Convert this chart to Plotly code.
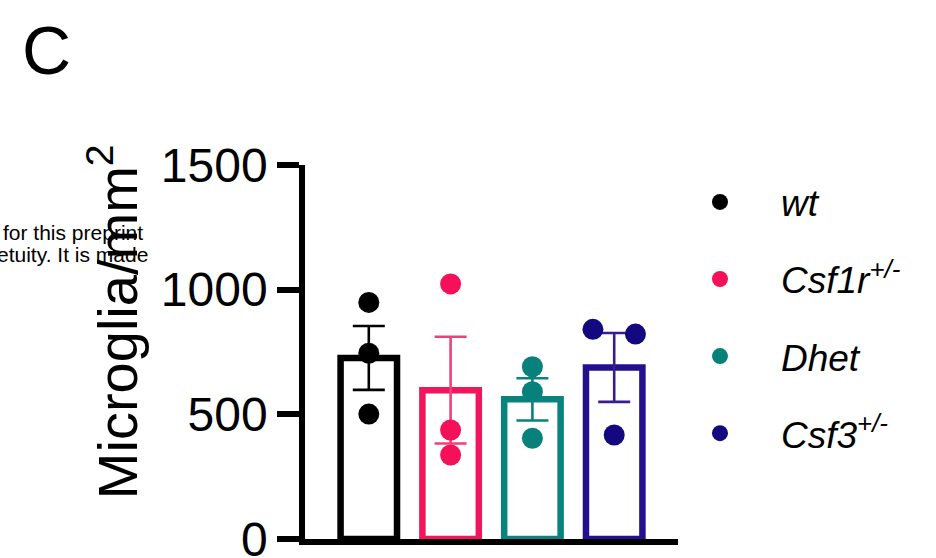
import plotly.graph_objects as go

groups = ["wt", "Csf1r", "Dhet", "Csf3"]
legend_labels = ["<i>wt</i>", "<i>Csf1r<sup>+/-</sup></i>", "<i>Dhet</i>", "<i>Csf3<sup>+/-</sup></i>"]
bar_means = [726, 597, 560, 688]
bar_sem = [128, 214, 85, 138]
points = [[949, 745, 501], [1023, 437, 337], [691, 591, 404], [841, 822, 417]]
jitter = [[0, 0, 0], [0, 0, 0], [0, 0, 0], [-0.26, 0.26, 0]]
bar_colors = ["#000000", "#F2145C", "#0A827E", "#24108C"]
err_colors = ["#000000", "#F0407A", "#0A827E", "#3A1C8E"]
dot_colors = ["#000000", "#F5115A", "#08807C", "#13087F"]
y_ticks = [0, 500, 1000, 1500]

fig = go.Figure()
for i, g in enumerate(groups):
    fig.add_trace(go.Bar(
        x=[i], y=[bar_means[i]], width=0.69,
        marker=dict(color="white", line=dict(color=bar_colors[i], width=6.5)),
        error_y=dict(type="data", array=[bar_sem[i]], color=err_colors[i], thickness=2.6, width=16),
        showlegend=False, hoverinfo="skip",
    ))
for i, g in enumerate(groups):
    fig.add_trace(go.Scatter(
        x=[i + j for j in jitter[i]], y=points[i], mode="markers",
        marker=dict(color=dot_colors[i], size=21),
        name=legend_labels[i], legendgroup=g,
    ))

fig.update_layout(
    width=936, height=558,
    margin=dict(l=305, r=258, t=165, b=19, autoexpand=False),
    paper_bgcolor="white", plot_bgcolor="white",
    font=dict(family="Liberation Sans, Arial", color="black"),
    showlegend=True,
    legend=dict(x=0.949, y=0.983, xanchor="left", yanchor="top",
                font=dict(size=37, family="Liberation Sans, Arial"),
                tracegroupgap=26, itemwidth=112, bgcolor="rgba(0,0,0,0)"),
    xaxis=dict(range=[-0.78, 3.78], showline=True, linecolor="black", linewidth=5.5,
               showticklabels=False, ticks="", showgrid=False, zeroline=False, fixedrange=True),
    yaxis=dict(range=[0, 1500], tickvals=y_ticks, ticktext=[str(v) for v in y_ticks],
               showline=True, linecolor="black", linewidth=5.5,
               ticks="outside", ticklen=22, tickwidth=5.5, tickcolor="black",
               tickfont=dict(size=48, family="Liberation Sans, Arial"),
               ticklabeloverflow="allow",
               showgrid=False, zeroline=False),
)
fig.add_annotation(text="Microglia/mm<sup>2</sup>", textangle=-90, xref="paper", yref="paper",
                   x=-0.513, y=0.5816, xanchor="center", yanchor="middle", showarrow=False,
                   font=dict(size=56, family="Liberation Sans, Arial", color="black"))
fig.add_annotation(text="C", xref="paper", yref="paper", x=-0.692, y=1.307,
                   xanchor="center", yanchor="middle", showarrow=False,
                   font=dict(size=68, family="Liberation Sans, Arial", color="black"))
fig.add_annotation(text="for this preprint", xref="paper", yref="paper", x=-0.428, y=0.82,
                   xanchor="right", yanchor="middle", showarrow=False,
                   font=dict(size=21, family="Liberation Sans, Arial", color="black"))
fig.add_annotation(text="etuity. It is made", xref="paper", yref="paper", x=-0.415, y=0.762,
                   xanchor="right", yanchor="middle", showarrow=False,
                   font=dict(size=21, family="Liberation Sans, Arial", color="black"))

fig.write_html("out.html", config={"displayModeBar": False},
               post_script="document.body.style.margin='0';")
